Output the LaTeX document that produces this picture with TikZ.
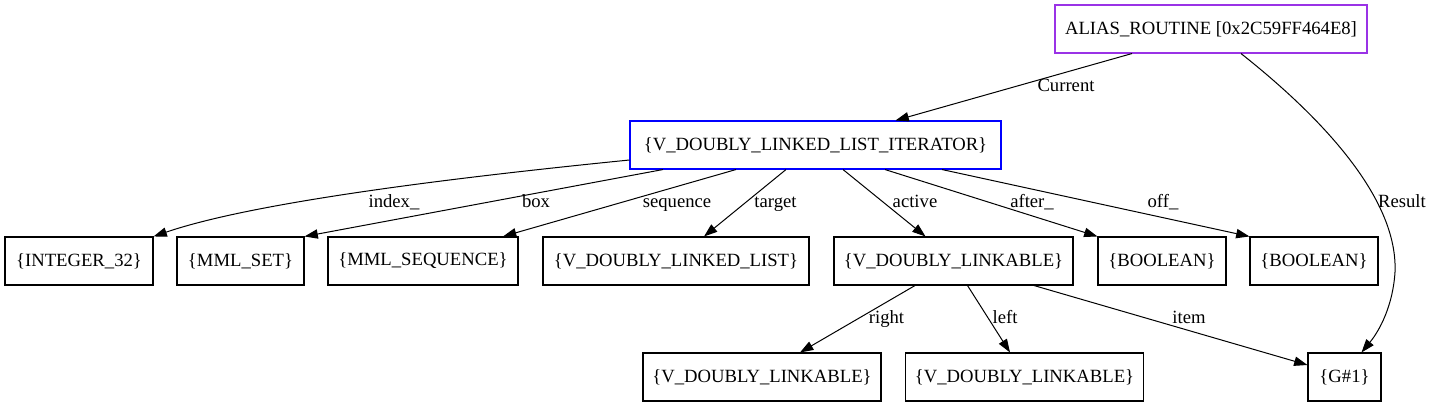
\documentclass[tikz,border=0pt]{standalone}
\usepackage{fontspec}
\setmainfont{Liberation Serif}
\usetikzlibrary{arrows.meta,calc}
\definecolor{aliascol}{HTML}{9A32E6}
\begin{document}
\begin{tikzpicture}[x=0.75pt,y=-0.75pt,
  box/.style={draw, rectangle, minimum height=36pt, inner sep=0pt, font=\fontsize{14}{16}\selectfont, line width=0.8pt},
  lab/.style={font=\fontsize{14}{16}\selectfont, inner sep=0pt, text height=9.5pt, text depth=3pt},
  edge/.style={-{Triangle[length=10pt,width=7pt]}, line width=0.75pt}]
\useasboundingbox (0,0) rectangle (1431,407);
% nodes
\node[box, draw=aliascol, minimum width=234pt] (alias) at (1211,29) {ALIAS\_ROUTINE [0x2C59FF464E8]};
\node[box, draw=blue, minimum width=278.25pt] (iter) at (815.5,145) {\{V\_DOUBLY\_LINKED\_LIST\_ITERATOR\}};
\node[box, minimum width=111pt] (int) at (79,261) {\{INTEGER\_32\}};
\node[box, minimum width=95.25pt] (mmlset) at (240.5,261) {\{MML\_SET\}};
\node[box, minimum width=142.5pt] (mmlseq) at (423,261) {\{MML\_SEQUENCE\}};
\node[box, minimum width=199.5pt] (dllist) at (676,261) {\{V\_DOUBLY\_LINKED\_LIST\}};
\node[box, minimum width=179.25pt] (linkable) at (953.5,261) {\{V\_DOUBLY\_LINKABLE\}};
\node[box, minimum width=96pt] (bool1) at (1162,261) {\{BOOLEAN\}};
\node[box, minimum width=96pt] (bool2) at (1314,261) {\{BOOLEAN\}};
\node[box, minimum width=178.5pt] (l1) at (762,377) {\{V\_DOUBLY\_LINKABLE\}};
\node[box, minimum width=178.5pt] (l2) at (1024.5,377) {\{V\_DOUBLY\_LINKABLE\}};
\node[box, minimum width=54.75pt] (g) at (1344.5,377) {\{G\#1\}};
% edges
\draw[edge] ($(alias.south)+(-79,0)$) -- ($(iter.north)+(80,0)$) node[lab] at (1066,87) {Current};
\draw[edge] ($(alias.south)+(30,0)$) .. controls (1325,120) and (1398,200) .. (1395,272)
  .. controls (1393,305) and (1380,330) .. ($(g.north)+(17,0)$) node[lab] at (1402,203) {Result};
\draw[edge] ($(iter.west)+(0,15)$) .. controls (480,175) and (260,200) .. (int.north east) node[lab] at (394,203) {index\_};
\draw[edge] ($(iter.south)+(-152.5,0)$) -- (mmlset.north east) node[lab] at (536,203) {box};
\draw[edge] ($(iter.south)+(-79.5,0)$) -- ($(mmlseq.north)+(80,0)$) node[lab] at (677,203) {sequence};
\draw[edge] ($(iter.south)+(-29.5,0)$) -- ($(dllist.north)+(28,0)$) node[lab] at (775.5,203) {target};
\draw[edge] ($(iter.south)+(27.5,0)$) -- ($(linkable.north)+(-28,0)$) node[lab] at (915,203) {active};
\draw[edge] ($(iter.south)+(69.5,0)$) -- (bool1.north west) node[lab] at (1032,203) {after\_};
\draw[edge] ($(iter.south)+(126.5,0)$) -- (bool2.north west) node[lab] at (1163,203) {off\_};
\draw[edge] ($(linkable.south)+(-38.5,0)$) -- ($(l1.north)+(38,0)$) node[lab] at (886.5,319) {right};
\draw[edge] ($(linkable.south)+(14,0)$) -- ($(l2.north)+(-14.5,0)$) node[lab] at (1005,319) {left};
\draw[edge] ($(linkable.south)+(80.5,0)$) -- ($(g.west)+(0,-12)$) node[lab] at (1189,319) {item};
\end{tikzpicture}
\end{document}
